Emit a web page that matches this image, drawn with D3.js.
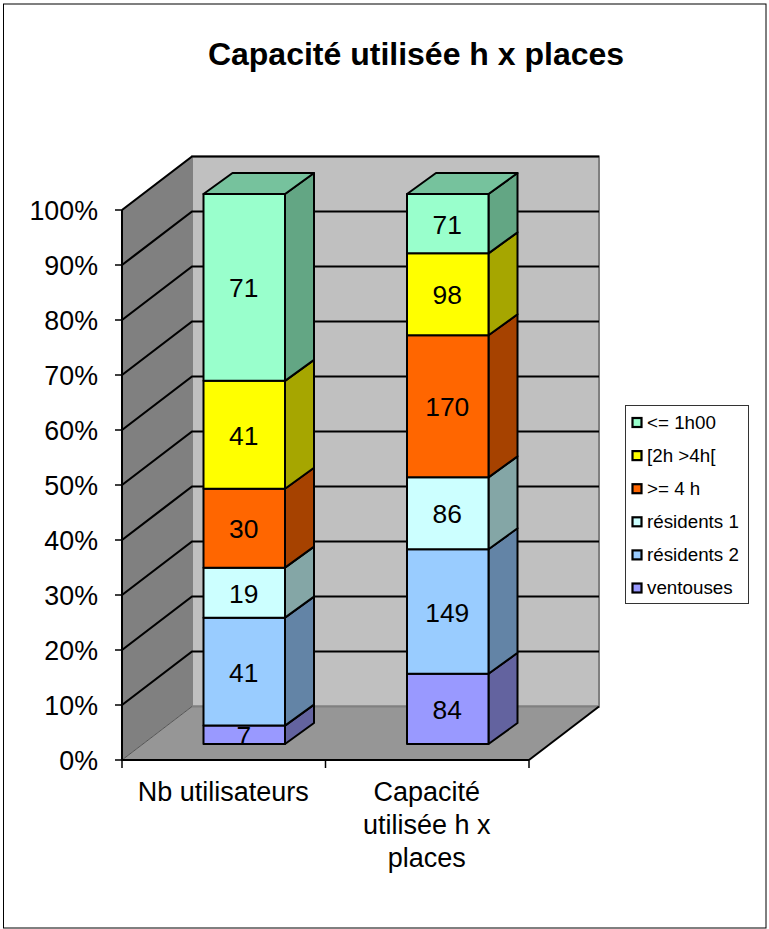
<!DOCTYPE html>
<html><head><meta charset="utf-8">
<script src="https://cdn.jsdelivr.net/npm/d3@7"></script>
<style>html,body{margin:0;padding:0;background:#fff}svg{display:block}text{font-family:"Liberation Sans",Arial,sans-serif;fill:#000}</style>
</head><body><div id="c"></div>
<script>
const categories = ["Nb utilisateurs", "Capacité utilisée h x places"];
const seriesNames = ["ventouses", "résidents 2", "résidents 1", ">= 4 h", "[2h >4h[", "<= 1h00"];
const ventouses = [7, 84];
const residents2 = [41, 149];
const residents1 = [19, 86];
const sup4h = [30, 170];
const h2a4 = [41, 98];
const inf1h = [71, 71];
const seriesColors = ["#9999ff", "#99ccff", "#ccffff", "#ff6600", "#ffff00", "#99ffcc"];
const sideColors = ["#63639f", "#6384a6", "#84a6a6", "#a64200", "#a6a600", "#63a684"];
const topColors = ["#7a7acc", "#7aa3cc", "#a3cccc", "#cc5200", "#cccc00", "#76c29d"];
const percentTicks = [0, .1, .2, .3, .4, .5, .6, .7, .8, .9, 1];
const chartTitle = "Capacité utilisée h x places";
const categoryLines = [["Nb utilisateurs"], ["Capacité", "utilisée h x", "places"]];

const W = 769, H = 929;
const svg = d3.select("#c").append("svg").attr("width", W).attr("height", H);
svg.append("rect").attr("x", 3.5).attr("y", 4).attr("width", 762.5).attr("height", 924)
  .attr("fill", "#fff").attr("stroke", "#000").attr("stroke-width", 1);

svg.append("text").attr("x", 416).attr("y", 65).attr("text-anchor", "middle")
  .attr("font-size", 32).attr("font-weight", "bold").text(chartTitle);

const x0 = 122, x1 = 529, yB = 760, yT = 210, dX = 70, dY = -53.5;
const y = d3.scaleLinear().domain([0, 1]).range([yB, yT]);
const x = d3.scaleBand().domain(categories).range([x0, x1]);
const depth = (px, py, t) => [px + dX * t, py + dY * t];
const pts = a => a.map(p => p.join(",")).join(" ");
const lc = "#000";

svg.append("polygon").attr("points", pts([depth(x0, yB, 1), depth(x1, yB, 1), depth(x1, yT, 1), depth(x0, yT, 1)]))
  .attr("fill", "#c0c0c0").attr("stroke", "#808080").attr("stroke-width", 2);
svg.append("polygon").attr("points", pts([[x0, yB], depth(x0, yB, 1), depth(x0, yT, 1), [x0, yT]]))
  .attr("fill", "#808080").attr("stroke", "none");
svg.append("polygon").attr("points", pts([[x0, yB], [x1, yB], depth(x1, yB, 1), depth(x0, yB, 1)]))
  .attr("fill", "#969696").attr("stroke", "none");

percentTicks.forEach(t => {
  const yy = y(t);
  if (t > 0) svg.append("polyline").attr("points", pts([[x0, yy], depth(x0, yy, 1), depth(x1, yy, 1)]))
    .attr("fill", "none").attr("stroke", lc).attr("stroke-width", 2.2);
});
svg.append("line").attr("x1", x0 + dX).attr("y1", yB + dY).attr("x2", x0).attr("y2", yB).attr("stroke", "#555").attr("stroke-width", 1);
svg.append("line").attr("x1", x0 + dX).attr("y1", yB + dY).attr("x2", x1 + dX).attr("y2", yB + dY).attr("stroke", "#808080").attr("stroke-width", 2);
svg.append("line").attr("x1", x1).attr("y1", yB).attr("x2", x1 + dX).attr("y2", yB + dY).attr("stroke", lc).attr("stroke-width", 2);

svg.append("line").attr("x1", x0).attr("y1", yT).attr("x2", x0).attr("y2", yB).attr("stroke", lc).attr("stroke-width", 2);
svg.append("line").attr("x1", x0 - 1).attr("y1", yB).attr("x2", x1).attr("y2", yB).attr("stroke", lc).attr("stroke-width", 2);
percentTicks.forEach(t => {
  svg.append("line").attr("x1", x0 - 7).attr("x2", x0).attr("y1", y(t)).attr("y2", y(t)).attr("stroke", lc).attr("stroke-width", 1.5);
  svg.append("text").attr("x", 98).attr("y", y(t) + 10).attr("text-anchor", "end").attr("font-size", 26.8)
    .text(d3.format(".0%")(t));
});
[x0, x0 + x.bandwidth(), x1].forEach(v => {
  svg.append("line").attr("x1", v).attr("x2", v).attr("y1", yB).attr("y2", yB + 8).attr("stroke", lc).attr("stroke-width", 1.5);
});
categoryLines.forEach((lines, i) => {
  lines.forEach((s, j) => {
    svg.append("text").attr("x", x(categories[i]) + x.bandwidth() / 2 - 0.5).attr("y", 801 + j * 33)
      .attr("text-anchor", "middle").attr("font-size", 27).text(s);
  });
});

const rows = categories.map((c, i) => ({ c, v0: ventouses[i], v1: residents2[i], v2: residents1[i], v3: sup4h[i], v4: h2a4[i], v5: inf1h[i] }));
const stack = d3.stack().keys(["v0", "v1", "v2", "v3", "v4", "v5"]).offset(d3.stackOffsetExpand);
const layers = stack(rows);
const barW = 81.5, barDepthX = 29, barDepthY = -21;
const by = d3.scaleLinear().domain([0, 1]).range([744, 194]);
const barLeft = c => x(c) + x.bandwidth() / 2 + 20.5 - barW / 2;

layers.forEach((layer, s) => {
  layer.forEach((d, i) => {
    const c = categories[i], l = barLeft(c), r = l + barW, a = by(d[0]), b = by(d[1]);
    const g = svg.append("g").attr("stroke", lc).attr("stroke-width", 2).attr("stroke-linejoin", "round");
    g.append("polygon").attr("points", pts([[r, a], [r + barDepthX, a + barDepthY], [r + barDepthX, b + barDepthY], [r, b]])).attr("fill", sideColors[s]);
    if (s === layers.length - 1)
      g.append("polygon").attr("points", pts([[l, b], [r, b], [r + barDepthX, b + barDepthY], [l + barDepthX, b + barDepthY]])).attr("fill", topColors[s]);
    g.append("rect").attr("x", l).attr("y", b).attr("width", barW).attr("height", a - b).attr("fill", seriesColors[s]);
  });
});
layers.forEach(layer => layer.forEach((d, i) => {
  const c = categories[i];
  const val = d.data["v" + layer.index];
  svg.append("text").attr("x", barLeft(c) + barW / 2 - 0.5).attr("y", (by(d[0]) + by(d[1])) / 2 + 10)
    .attr("text-anchor", "middle").attr("font-size", 26.4).text(val);
}));

svg.append("rect").attr("x", 625.5).attr("y", 405.5).attr("width", 123).attr("height", 198)
  .attr("fill", "#fff").attr("stroke", "#333").attr("stroke-width", 1);
const legendOrder = d3.range(seriesNames.length).reverse();
legendOrder.forEach((s, j) => {
  const yy = 422 + j * 33.1;
  svg.append("rect").attr("x", 632.5).attr("y", yy - 4).attr("width", 9).attr("height", 9)
    .attr("fill", seriesColors[s]).attr("stroke", lc).attr("stroke-width", 2.2);
  svg.append("text").attr("x", 647).attr("y", yy + 6.5).attr("font-size", 18.8).text(seriesNames[s]);
});
</script></body></html>
